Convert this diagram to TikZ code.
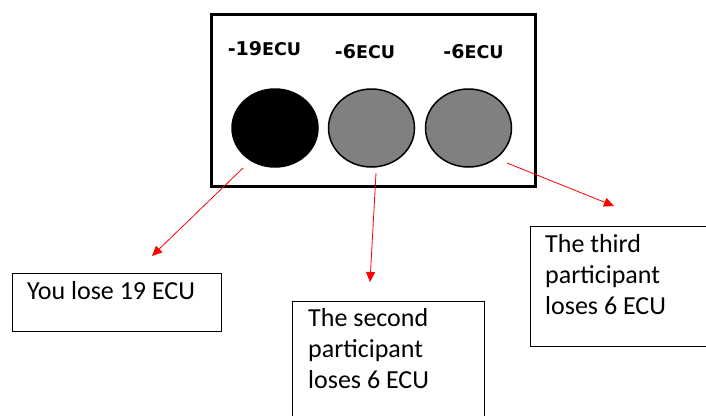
\documentclass[tikz,border=0pt]{standalone}
\usepackage{fontspec}
\setmainfont{Carlito}
\newfontfamily\lblfont{DejaVu Sans}
\usetikzlibrary{shapes.geometric,arrows.meta}
\tikzset{
  outerbox/.style={draw=black, line width=3pt},
  disc/.style={ellipse, draw=black, line width=1.5pt, minimum width=86pt, minimum height=78pt, inner sep=0pt},
  toplabel/.style={font=\lblfont\bfseries, inner sep=0pt},
  redarrow/.style={draw=red, line width=0.8pt, -{Triangle[length=10pt,width=9pt]}},
  infobox/.style={draw=black, line width=1.2pt, rectangle, inner sep=0pt, anchor=north west},
  infotext/.style={font=\fontsize{26}{31}\selectfont, anchor=north west, inner sep=0pt, align=left}
}
\begin{document}
\begin{tikzpicture}[x=1pt,y=-1pt]
\useasboundingbox (0,0) rectangle (706,415);
% main frame
\node[outerbox, rectangle, inner sep=0pt, minimum width=324pt, minimum height=172pt, anchor=north west] (frame) at (210,13) {};
% labels
\node[toplabel] (l1) at (264.5,49) {\fontsize{19}{18}\selectfont -19\fontsize{17.5}{16}\selectfont ECU};
\node[toplabel] (l2) at (365,52) {\fontsize{19}{18}\selectfont -6\fontsize{17.5}{16}\selectfont ECU};
\node[toplabel] (l3) at (473.5,52) {\fontsize{19}{18}\selectfont -6\fontsize{17.5}{16}\selectfont ECU};
% discs
\node[disc, fill=black] (c1) at (275,128) {};
\node[disc, fill={rgb,255:red,128;green,128;blue,128}] (c2) at (371.5,128) {};
\node[disc, fill={rgb,255:red,128;green,128;blue,128}] (c3) at (468.5,128) {};
% boxes
\node[infobox, minimum width=209pt, minimum height=58pt] (b1) at (12,273) {};
\node[infobox, minimum width=192pt, minimum height=140pt] (b2) at (292,301) {};
\node[infobox, minimum width=200pt, minimum height=120pt] (b3) at (530,226) {};
% texts
\node[infotext] (t1) at ([xshift=15pt,yshift=-8pt]b1.north west) {You lose 19 ECU};
\node[infotext] (t2) at ([xshift=16pt,yshift=-7pt]b2.north west) {The second\\participant\\loses 6 ECU};
\node[infotext] (t3) at ([xshift=15pt,yshift=-8pt]b3.north west) {The third\\participant\\loses 6 ECU};
% arrow end points
\coordinate (s1) at (243,168);
\coordinate (e1) at (152,256);
\coordinate (s2) at (376,173);
\coordinate (e2) at (370,282);
\coordinate (s3) at (507,163);
\coordinate (e3) at (614,206);
\draw[redarrow] (s1) -- (e1);
\draw[redarrow] (s2) -- (e2);
\draw[redarrow] (s3) -- (e3);
\end{tikzpicture}
\end{document}
